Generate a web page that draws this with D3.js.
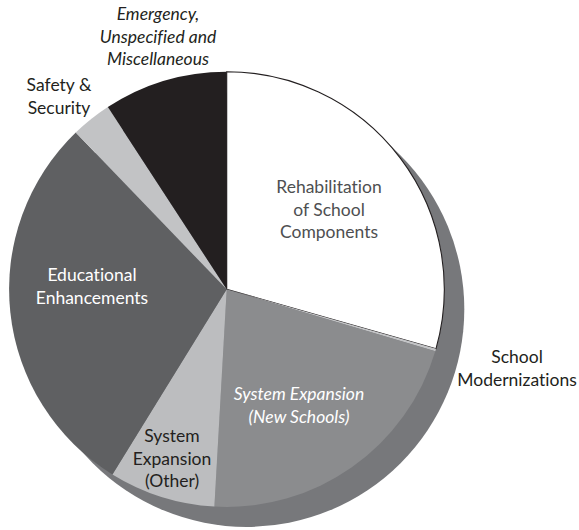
<!DOCTYPE html>
<html>
<head>
<meta charset="utf-8">
<script src="https://cdn.jsdelivr.net/npm/d3@7"></script>
<style>
  html, body { margin: 0; padding: 0; background: #fff; }
  svg { display: block; }
  text {
    font-family: "Lato", "Open Sans", sans-serif;
    font-size: 17.5px;
    font-variant-ligatures: none;
    font-feature-settings: "liga" 0, "dlig" 0;
  }
</style>
</head>
<body>
<svg id="chart" width="579" height="530"></svg>
<script>
// Share of capital spending by category (percent of total)
const categories = [
  "Rehabilitation of School Components",
  "School Modernizations",
  "System Expansion (New Schools)",
  "System Expansion (Other)",
  "Educational Enhancements",
  "Safety & Security",
  "Emergency, Unspecified and Miscellaneous"
];
const values = [29.4, 0.2, 21.3, 7.9, 29.0, 3.0, 9.2];

// Label text, one entry of lines per category
const labelLines = [
  ["Rehabilitation", "of School", "Components"],
  ["School", "Modernizations"],
  ["System Expansion", "(New Schools)"],
  ["System", "Expansion", "(Other)"],
  ["Educational", "Enhancements"],
  ["Safety &", "Security"],
  ["Emergency,", "Unspecified and", "Miscellaneous"]
];

// Presentation
const fills = ["#ffffff", "#c3c4c6", "#8b8c8e", "#bcbdbf", "#5f6062", "#c2c3c5", "#231f20"];
const labelStyle = [
  { x: 329, y: 193, color: "#4e4f51", italic: false },
  { x: 517, y: 363, color: "#231f20", italic: false },
  { x: 299, y: 400, color: "#ffffff", italic: true },
  { x: 172, y: 442, color: "#231f20", italic: false },
  { x: 92,  y: 281, color: "#ffffff", italic: false },
  { x: 59,  y: 91,  color: "#231f20", italic: false },
  { x: 158, y: 20,  color: "#231f20", italic: true }
];
const lineHeight = 22.5;

const svg = d3.select("#chart");
const cx = 226.7, cy = 289.3, radius = 217.6;
const shadowOffset = { x: 20, y: 20 };

const data = categories.map((c, i) => ({ category: c, value: values[i], i }));

const pie = d3.pie().sort(null).value(d => d.value);
const arc = d3.arc().innerRadius(0).outerRadius(radius);
const arcs = pie(data);

// Offset disc giving the pie a raised look
svg.append("circle")
  .attr("cx", cx + shadowOffset.x)
  .attr("cy", cy + shadowOffset.y)
  .attr("r", radius)
  .attr("fill", "#77787b");

const g = svg.append("g").attr("transform", `translate(${cx},${cy})`);

g.selectAll("path.slice")
  .data(arcs)
  .join("path")
  .attr("class", "slice")
  .attr("d", arc)
  .attr("fill", d => fills[d.data.i])
  .attr("stroke", d => d.data.i === 0 ? "#231f20" : "none")
  .attr("stroke-width", 1.1);

// Labels
const labels = svg.selectAll("text.label")
  .data(data)
  .join("text")
  .attr("class", "label")
  .attr("text-anchor", "middle")
  .attr("fill", d => labelStyle[d.i].color)
  .attr("font-style", d => labelStyle[d.i].italic ? "italic" : "normal");

labels.each(function(d) {
  const s = labelStyle[d.i];
  d3.select(this).selectAll("tspan")
    .data(labelLines[d.i])
    .join("tspan")
    .attr("x", s.x)
    .attr("y", (t, k) => s.y + k * lineHeight)
    .text(t => t);
});
</script>
</body>
</html>
